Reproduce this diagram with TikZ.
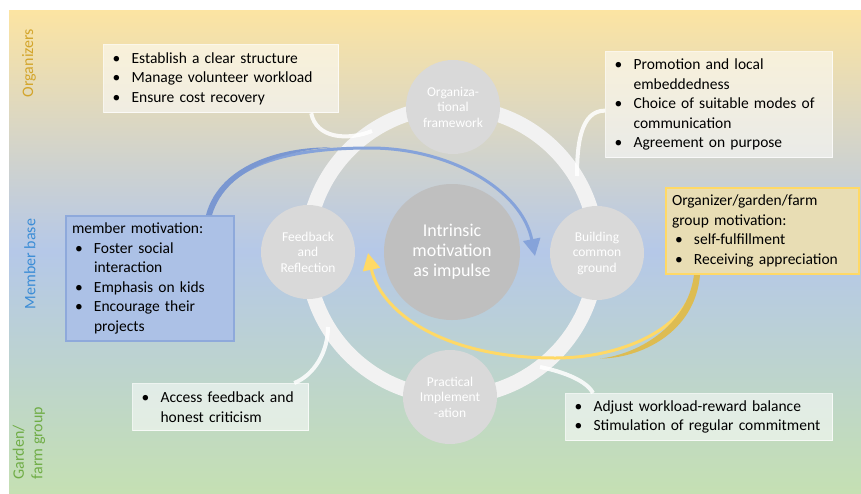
\documentclass[tikz,border=0pt]{standalone}
\usepackage{fontspec}
\setmainfont{Carlito}
\usepackage{tikz}
\usetikzlibrary{arrows.meta}

\definecolor{bgtop}{HTML}{FCE4A2}
\definecolor{bgmid}{HTML}{B5C8E8}
\definecolor{bgbot}{HTML}{C5E0B3}
\definecolor{phasegray}{HTML}{D9D9D9}
\definecolor{coregray}{HTML}{BFBFBF}
\definecolor{ringwhite}{HTML}{F2F2F2}
\definecolor{memberfill}{HTML}{ACC1E6}
\definecolor{memberline}{HTML}{8EA9DB}
\definecolor{groupfill}{HTML}{E8DDB4}
\definecolor{groupline}{HTML}{FFD966}
\definecolor{bluearrow}{HTML}{86A3DA}
\definecolor{bluedark}{HTML}{7A97D1}
\definecolor{yellowarrow}{HTML}{FFD966}
\definecolor{yellowdark}{HTML}{DDBC52}
\definecolor{orglabel}{HTML}{D3A52B}
\definecolor{memlabel}{HTML}{3C8DD6}
\definecolor{gardlabel}{HTML}{70AD47}

\newcommand{\bul}{\makebox[22pt][l]{\hspace{3pt}\textbullet}}
\newcommand{\cnt}{\hspace*{22pt}}

\begin{document}
\begin{tikzpicture}[x=1pt, y=-1pt,
    phase/.style={circle, fill=phasegray, minimum size=94pt, inner sep=0pt, text=white, align=center, font=\fontsize{13.5}{15.5}\selectfont},
    core/.style={circle, fill=coregray, minimum size=136pt, inner sep=0pt, text=white, align=center, font=\fontsize{18}{20}\selectfont},
    note/.style={rectangle, anchor=north west, fill=white, fill opacity=0.55, text opacity=1, draw=white, draw opacity=0.75, line width=1.2pt, align=left, inner xsep=6pt, inner ysep=2pt, text=black, font=\fontsize{15.5}{19.5}\selectfont},
    motive/.style={note, fill opacity=1, draw opacity=1, line width=2pt},
    link/.style={draw=white, draw opacity=0.85, line width=4pt},
    side/.style={rotate=90, font=\fontsize{16}{18.5}\selectfont}
  ]
  \useasboundingbox (0,0) rectangle (861,493);

  % Background
  \shade[top color=bgtop, bottom color=bgbot, middle color=bgmid] (9,10) rectangle (861,493);

  \node[side, text=orglabel] (orgs) at (29,63) {Organizers};
  \node[side, text=memlabel] (mems) at (30,264) {Member base};
  \node[side, text=gardlabel, align=left] (gard) at (29,443) {Garden/\\farm group};

  % Cycle
  \coordinate (mid) at (452,252);
  \draw[ringwhite, line width=15pt] (mid) circle[radius=145pt];

  \node[phase] (frame) at (453,107) {Organiza-\\tional\\framework};
  \node[phase] (ground) at (597,253) {Building\\common\\ground};
  \node[phase] (impl) at (450,397) {Practical\\Implement\\-ation};
  \node[phase] (refl) at (308,252) {Feedback\\and\\Reflection};
  \node[core] (hub) at (mid) {Intrinsic\\motivation\\as impulse};

  % Boxes
  \node[note, text width=223pt, minimum height=68pt] (struct) at (103,44) {\bul Establish a clear structure\\ \bul Manage volunteer workload\\ \bul Ensure cost recovery};
  \node[note, text width=215pt, minimum height=106pt] (promo) at (605,51) {\bul Promotion and local\\ \cnt embeddedness\\ \bul Choice of suitable modes of\\ \cnt communication\\ \bul Agreement on purpose};
  \node[note, text width=164pt, minimum height=47pt] (critic) at (132,383) {\bul Access feedback and\\ \cnt honest criticism};
  \node[note, text width=255pt, minimum height=47pt] (balance) at (565,393) {\bul Adjust workload-reward balance\\ \bul Stimulation of regular commitment};

  % Lines
  \coordinate (r1) at (372,131);
  \coordinate (r2) at (577,176);
  \coordinate (r3) at (328,327);
  \coordinate (r4) at (540,367);
  \draw[link] ([xshift=-28pt]struct.south east) .. controls +(5,25) and +(-25,10) .. (r1);
  \draw[link] ([yshift=-6pt]promo.west) .. controls +(-25,0) and +(0,-30) .. (r2);
  \draw[link] ([xshift=-15pt]critic.north east) .. controls +(20,-8) and +(0,25) .. (r3);
  \draw[link] ([xshift=28pt]balance.north west) .. controls +(-8,-15) and +(15,3) .. (r4);

  % Motivation
  \node[motive, fill=memberfill, draw=memberline, text width=156pt, minimum height=125pt] (member) at (65,215) {member motivation:\\ \bul Foster social\\ \cnt interaction\\ \bul Emphasis on kids\\ \bul Encourage their\\ \cnt projects};
  \node[motive, fill=groupfill, draw=groupline, text width=181pt, minimum height=86pt] (group) at (665,187) {Organizer/garden/farm\\ group motivation:\\ \bul self-fulfillment\\ \bul Receiving appreciation};

  \coordinate (bt) at (535,256);
  \coordinate (yt) at (368,253);
  \draw[bluearrow, line width=3pt, -{Triangle[width=17pt,length=17pt]}] ([xshift=-26pt]member.north east) .. controls (225,160) and (300,148) .. (370,148) .. controls (450,148) and (522,190) .. (bt);
  \fill[bluedark] ([xshift=-29pt]member.north east) .. controls (220,161) and (290,146.5) .. (330,147.5) .. controls (292,150.5) and (227,165) .. ([xshift=-23pt]member.north east) -- cycle;
  \draw[yellowarrow, line width=3pt, -{Triangle[width=17pt,length=17pt]}] ([xshift=32pt]group.south west) .. controls (690,330) and (620,358) .. (555,358) .. controls (440,358) and (380,310) .. (yt);
  \fill[yellowdark] ([xshift=35pt]group.south west) .. controls (695,333) and (640,358.5) .. (600,358.5) .. controls (635,355) and (687,328) .. ([xshift=29pt]group.south west) -- cycle;
\end{tikzpicture}
\end{document}
